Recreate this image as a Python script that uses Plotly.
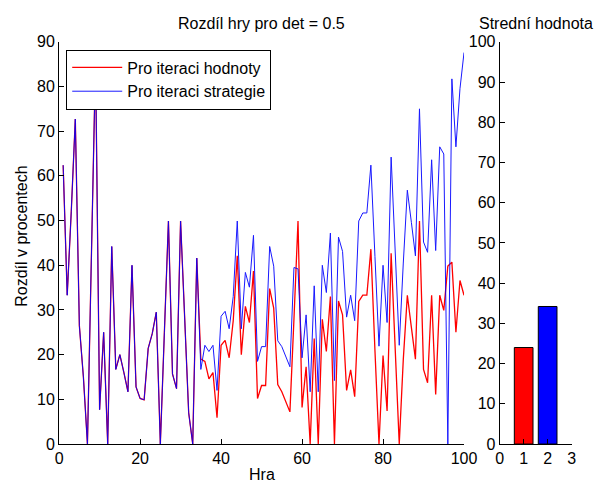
import plotly.graph_objects as go

games = list(range(1, 101))

hodnoty = [62.4, 33.3, 52, 72.7, 26.5, 15, 0, 40, 86, 7.7,
           25.0, 0, 44.2, 16.7, 20.0, 16, 11.7, 40.0, 12.8, 10.2,
           9.9, 21.4, 24.7, 29.5, 0, 25, 49.9, 15.7, 12.4, 49.9,
           28, 7.0, 0, 41.6, 19, 18.5, 14.6, 16.0, 5.9, 22.1,
           23.2, 19.3, 27.6, 42.1, 20.0, 30.8, 27.2, 38.7, 10.2, 13.1,
           13.1, 34.8, 30.4, 13.3, 11.7, 9.5, 7.2, 28, 49.9, 8.2,
           17.3, 0, 23.6, 0, 27.9, 20.7, 33.0, 0, 32.0, 28.9,
           12.0, 16.6, 10.6, 31.9, 33.3, 33.3, 43.6, 21, 0, 19.8,
           7.4, 42.7, 21.4, 0, 18.9, 33.3, 26.1, 19.0, 49.9, 16.7,
           13.7, 33.3, 11.1, 33.3, 29.9, 39.8, 40.7, 25.0, 36.6, 33.3]

strategie = [62.4, 33.3, 52, 72.7, 26.5, 15, 0, 40, 86, 7.7,
             25.0, 0, 44.2, 16.7, 20.0, 16, 11.7, 40.0, 12.8, 10.2,
             9.9, 21.4, 24.7, 29.5, 0, 25, 49.9, 15.7, 12.4, 49.9,
             28, 7.0, 0, 41.6, 16.7, 22.1, 20.7, 22.1, 12.0, 28.6,
             29.7, 25.8, 33.0, 49.9, 25.8, 38.4, 35.1, 46.7, 18.5, 21.8,
             21.8, 44.2, 39.8, 23.1, 21.8, 19.6, 17.3, 39.5, 39.2, 19.3,
             28.9, 11.7, 35.4, 11.7, 40.0, 33.9, 47.2, 14.2, 46.3, 43.1,
             28.4, 33.3, 27.6, 49.9, 51.7, 51.7, 62.4, 42, 21.9, 40.0,
             27.2, 64.2, 43, 22.1, 40.5, 56.8, 49.6, 42.1, 75.0, 45.2,
             42.9, 63.6, 43.3, 66.5, 64.9, 0, 81.7, 66.5, 79.5, 87.6]

bar_x = [1, 2]
bar_means = [24.0, 34.2]
bar_colors = ["#ff0000", "#0000ff"]

FONT = "Liberation Sans, Arial, Helvetica, sans-serif"
FS = 16
W, H = 606, 491

fig = go.Figure()
fig.add_trace(go.Scatter(x=games, y=hodnoty, mode="lines", name="Pro iteraci hodnoty",
                         line=dict(color="#ff0000", width=1.3), xaxis="x", yaxis="y"))
fig.add_trace(go.Scatter(x=games, y=strategie, mode="lines", name="Pro iteraci strategie",
                         line=dict(color="#0000ff", width=1), opacity=0.9, xaxis="x", yaxis="y"))
fig.add_trace(go.Bar(x=bar_x, y=bar_means, width=0.78, marker=dict(color=bar_colors,
                     line=dict(color="black", width=1)), showlegend=False,
                     xaxis="x2", yaxis="y2"))

ax = dict(showline=True, linecolor="black", linewidth=1, ticks="inside", ticklen=5,
          tickcolor="black", showgrid=False, zeroline=False, mirror=False,
          tickfont=dict(family=FONT, size=FS, color="black"))

ydom = [1 - 451.7 / H, 1 - 35 / H]
fig.update_layout(
    width=W, height=H, margin=dict(l=0, r=0, t=0, b=0),
    paper_bgcolor="white", plot_bgcolor="white",
    font=dict(family=FONT, size=FS, color="black"),
    xaxis=dict(domain=[56.7 / W, 473.3 / W], range=[0, 100], tickvals=[0, 20, 40, 60, 80, 100], anchor="y", **ax),
    yaxis=dict(domain=ydom, range=[0, 90], tickvals=list(range(0, 91, 10)), anchor="x", **ax),
    xaxis2=dict(domain=[510 / W, 584 / W], range=[0, 3], tickvals=[0, 1, 2, 3], anchor="y2", **ax),
    yaxis2=dict(domain=ydom, range=[0, 100], tickvals=list(range(0, 101, 10)), anchor="x2", **ax),
    legend=dict(x=64 / W, y=1 - 43 / H, xanchor="left", yanchor="top",
                bgcolor="white", bordercolor="black", borderwidth=1,
                font=dict(family=FONT, size=FS, color="black"),
                tracegroupgap=0, itemwidth=50),
    showlegend=True,
    annotations=[
        dict(text="Rozdíl hry pro det = 0.5", x=265 / W, y=1 - 16 / H, xref="paper", yref="paper",
             showarrow=False, xanchor="center", yanchor="middle", font=dict(size=FS)),
        dict(text="Strední hodnota", x=547.5 / W, y=1 - 16 / H, xref="paper", yref="paper",
             showarrow=False, xanchor="center", yanchor="middle", font=dict(size=FS)),
        dict(text="Hra", x=265 / W, y=1 - 483 / H, xref="paper", yref="paper",
             showarrow=False, xanchor="center", yanchor="middle", font=dict(size=FS)),
        dict(text="Rozdíl v procentech", x=18.5 / W, y=1 - 236 / H, xref="paper", yref="paper",
             showarrow=False, xanchor="center", yanchor="middle", textangle=-90, font=dict(size=FS)),
    ],
)

fig.write_html("out.html")
